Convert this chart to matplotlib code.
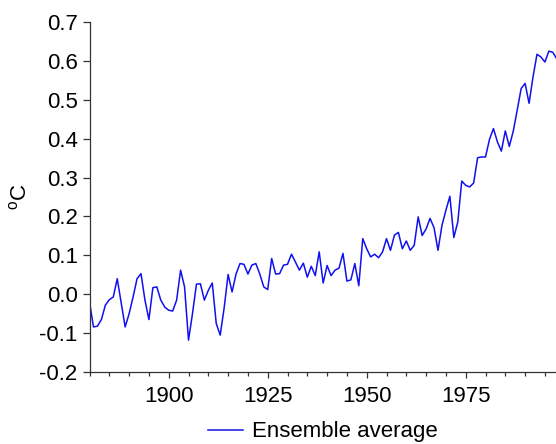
import numpy as np
import matplotlib
matplotlib.use("Agg")
import matplotlib.pyplot as plt
from matplotlib.ticker import MultipleLocator, FormatStrFormatter

plt.rcParams['font.family'] = ['Liberation Sans', 'DejaVu Sans']
plt.rcParams['axes.unicode_minus'] = False
plt.rcParams['mathtext.fontset'] = 'custom'
plt.rcParams['mathtext.rm'] = 'Liberation Sans'

# annual global temperature anomaly, ensemble mean
years = np.arange(1880, 1999)
anomaly = [
    -0.020, -0.084, -0.082, -0.065, -0.028, -0.014, -0.007, 0.040, -0.022, -0.084,
    -0.050, -0.007, 0.040, 0.053, -0.015, -0.065, 0.017, 0.019, -0.015, -0.033,
    -0.041, -0.043, -0.015, 0.062, 0.019, -0.118, -0.050, 0.026, 0.027, -0.015,
    0.010, 0.029, -0.075, -0.105, -0.035, 0.051, 0.006, 0.052, 0.079, 0.077,
    0.052, 0.075, 0.079, 0.052, 0.019, 0.012, 0.092, 0.052, 0.053, 0.075,
    0.077, 0.103, 0.083, 0.062, 0.080, 0.044, 0.072, 0.048, 0.109, 0.029,
    0.074, 0.048, 0.062, 0.067, 0.105, 0.034, 0.037, 0.079, 0.022, 0.143,
    0.117, 0.096, 0.103, 0.094, 0.109, 0.143, 0.113, 0.152, 0.159, 0.117,
    0.137, 0.113, 0.126, 0.199, 0.151, 0.168, 0.195, 0.171, 0.113, 0.177,
    0.216, 0.252, 0.146, 0.186, 0.291, 0.280, 0.276, 0.286, 0.351, 0.353,
    0.353, 0.398, 0.426, 0.392, 0.368, 0.420, 0.380, 0.419, 0.473, 0.529,
    0.542, 0.491, 0.559, 0.617, 0.610, 0.597, 0.625, 0.622, 0.605,
]
series_label = "Ensemble average"
y_title = r"$\mathrm{^{o}C}$"

fig = plt.figure(figsize=(5.56, 4.44), dpi=100)
ax = fig.add_axes([0.161, 0.162, 0.839, 0.7885])

ax.plot(years, anomaly, color="#1010f0", lw=1.1, label=series_label)

ax.set_xlim(1880, 1997.8)
ax.set_ylim(-0.2, 0.7)

ax.xaxis.set_major_locator(MultipleLocator(25))
ax.xaxis.set_minor_locator(MultipleLocator(5))
ax.yaxis.set_major_locator(MultipleLocator(0.1))
ax.yaxis.set_major_formatter(FormatStrFormatter("%.1f"))

ax.spines['top'].set_visible(False)
ax.spines['right'].set_visible(False)
for s in ('left', 'bottom'):
    ax.spines[s].set_color("#333333")
    ax.spines[s].set_linewidth(0.9)

ax.tick_params(axis='x', which='major', length=4, width=0.9, color="#333333",
               labelsize=16, pad=6)
ax.tick_params(axis='x', which='minor', length=3, width=0.9, color="#333333")
ax.tick_params(axis='y', which='major', length=5, width=0.9, color="#333333",
               labelsize=16, pad=3.5)

ax.set_ylabel(y_title, fontsize=16)
ax.yaxis.set_label_coords(-0.125, 0.5)

ax.legend(loc='center', bbox_to_anchor=(0.5, -0.171), frameon=False,
          fontsize=16, handlelength=1.6, handletextpad=0.4)

plt.savefig("out.png", dpi=100)
